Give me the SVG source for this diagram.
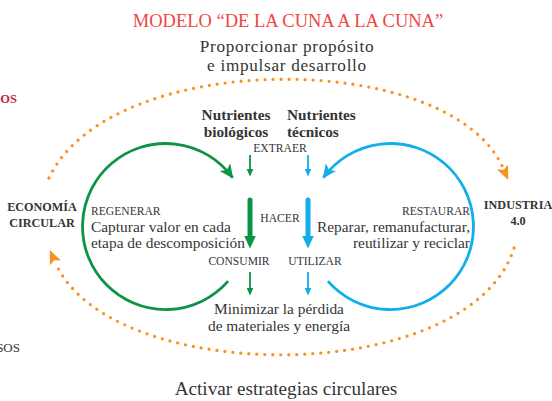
<svg xmlns="http://www.w3.org/2000/svg" width="552" height="401" viewBox="0 0 552 401" font-family="'Liberation Serif', serif">
<style>
text{font-family:"Liberation Serif","Times New Roman",serif;fill:#353535}
.title{font-size:18.5px;fill:#ee4642}
.big{font-size:19.2px}
.sub{font-size:17.2px;letter-spacing:0.7px}
.b{font-weight:bold}
.nut{font-size:15.3px;font-weight:bold}
.cap{font-size:11.6px}
.mid{font-size:15.4px}
.side{font-size:12.2px;font-weight:bold}
.dot{fill:none;stroke:#f7941d;stroke-width:3.3;stroke-linecap:round;stroke-dasharray:0 8}
.g{stroke:#0c9444;fill:none}
.bl{stroke:#12aeea;fill:none}
</style>
<defs>
<marker id="hg" markerUnits="userSpaceOnUse" markerWidth="16" markerHeight="14" refX="13" refY="6.5" orient="auto" viewBox="0 0 16 14"><path d="M0,0 L14,6.5 L0,13 L3.5,6.5 z" fill="#0c9444"/></marker>
<marker id="hb" markerUnits="userSpaceOnUse" markerWidth="16" markerHeight="14" refX="13" refY="6.5" orient="auto" viewBox="0 0 16 14"><path d="M0,0 L14,6.5 L0,13 L3.5,6.5 z" fill="#12aeea"/></marker>
<marker id="sg" markerUnits="userSpaceOnUse" markerWidth="10" markerHeight="8" refX="0.5" refY="3.5" orient="auto" viewBox="0 0 10 8"><path d="M0,0 L8,3.5 L0,7 z" fill="#0c9444"/></marker>
<marker id="sb" markerUnits="userSpaceOnUse" markerWidth="10" markerHeight="8" refX="0.5" refY="3.5" orient="auto" viewBox="0 0 10 8"><path d="M0,0 L8,3.5 L0,7 z" fill="#12aeea"/></marker>
<marker id="tg" markerUnits="userSpaceOnUse" markerWidth="14" markerHeight="13" refX="0.5" refY="6" orient="auto" viewBox="0 0 14 13"><path d="M0,0 L13,6 L0,12 z" fill="#0c9444"/></marker>
<marker id="tb" markerUnits="userSpaceOnUse" markerWidth="14" markerHeight="13" refX="0.5" refY="6" orient="auto" viewBox="0 0 14 13"><path d="M0,0 L13,6 L0,12 z" fill="#12aeea"/></marker>
<marker id="ho" markerUnits="userSpaceOnUse" markerWidth="16" markerHeight="14" refX="1" refY="6" orient="auto" viewBox="0 0 16 14"><path d="M0,0 L14,6 L0,12 L3,6 z" fill="#f7941d"/></marker>
</defs>

<g id="title">
<text class="title" x="288" y="27" text-anchor="middle">MODELO “DE LA CUNA A LA CUNA”</text>
</g>
<g id="cut-left">
<text x="17" y="103" text-anchor="end" class="b" style="font-size:12.5px;fill:#c0283c">OS</text>
<text x="20" y="352" text-anchor="end" style="font-size:13px">SOS</text>
</g>

<g id="connectors">
<path class="dot" d="M49,178 C110,48 450,48 503,168" marker-end="url(#ho)"/>
<path class="dot" d="M514,248 C470,388 110,388 55,262" marker-end="url(#ho)"/>
<path class="g" stroke-width="2.8" d="M228.1,281.1 A83,83 0 1 1 232.6,177.6" marker-end="url(#hg)"/>
<path class="bl" stroke-width="2.8" d="M327.9,281.1 A83,83 0 1 0 323.4,177.6" marker-end="url(#hb)"/>
<line class="g" stroke-width="1.8" x1="250" y1="155" x2="250" y2="169" marker-end="url(#sg)"/>
<line class="bl" stroke-width="1.8" x1="308" y1="155" x2="308" y2="169" marker-end="url(#sb)"/>
<line class="g" stroke-width="5" stroke-linecap="round" x1="250" y1="200" x2="250" y2="236" marker-end="url(#tg)"/>
<line class="bl" stroke-width="5" stroke-linecap="round" x1="308" y1="200" x2="308" y2="236" marker-end="url(#tb)"/>
<line class="g" stroke-width="1.8" x1="250" y1="272" x2="250" y2="288" marker-end="url(#sg)"/>
<line class="bl" stroke-width="1.8" x1="308" y1="272" x2="308" y2="288" marker-end="url(#sb)"/>
</g>

<g id="proporcionar">
<text class="sub" x="287" y="52" text-anchor="middle">Proporcionar propósito</text>
<text class="sub" x="287" y="71" text-anchor="middle">e impulsar desarrollo</text>
</g>
<g id="nutrientes-biologicos">
<text class="nut" x="236" y="120" text-anchor="middle">Nutrientes</text>
<text class="nut" x="236" y="137" text-anchor="middle">biológicos</text>
</g>
<g id="nutrientes-tecnicos">
<text class="nut" x="287" y="120">Nutrientes</text>
<text class="nut" x="287" y="137">técnicos</text>
</g>
<g id="extraer"><text class="cap" x="280" y="152" text-anchor="middle">EXTRAER</text></g>
<g id="hacer"><text class="cap" x="280" y="222" text-anchor="middle">HACER</text></g>
<g id="consumir"><text class="cap" x="239" y="265" text-anchor="middle">CONSUMIR</text></g>
<g id="utilizar"><text class="cap" x="315" y="265" text-anchor="middle">UTILIZAR</text></g>
<g id="regenerar">
<text class="cap" x="91" y="215">REGENERAR</text>
<text class="mid" x="91" y="232">Capturar valor en cada</text>
<text class="mid" x="91" y="248">etapa de descomposición</text>
</g>
<g id="restaurar">
<text class="cap" x="470" y="215" text-anchor="end">RESTAURAR</text>
<text class="mid" x="470" y="232" text-anchor="end">Reparar, remanufacturar,</text>
<text class="mid" x="470" y="248" text-anchor="end">reutilizar y reciclar</text>
</g>
<g id="economia-circular">
<text class="side" x="42" y="211" text-anchor="middle">ECONOMÍA</text>
<text class="side" x="42" y="227" text-anchor="middle">CIRCULAR</text>
</g>
<g id="industria">
<text class="side" x="518" y="209" text-anchor="middle">INDUSTRIA</text>
<text class="side" x="518" y="225" text-anchor="middle">4.0</text>
</g>
<g id="minimizar">
<text class="mid" x="279" y="314" text-anchor="middle">Minimizar la pérdida</text>
<text class="mid" x="279" y="331" text-anchor="middle">de materiales y energía</text>
</g>
<g id="activar">
<text class="big" x="286" y="395" text-anchor="middle">Activar estrategias circulares</text>
</g>
</svg>
